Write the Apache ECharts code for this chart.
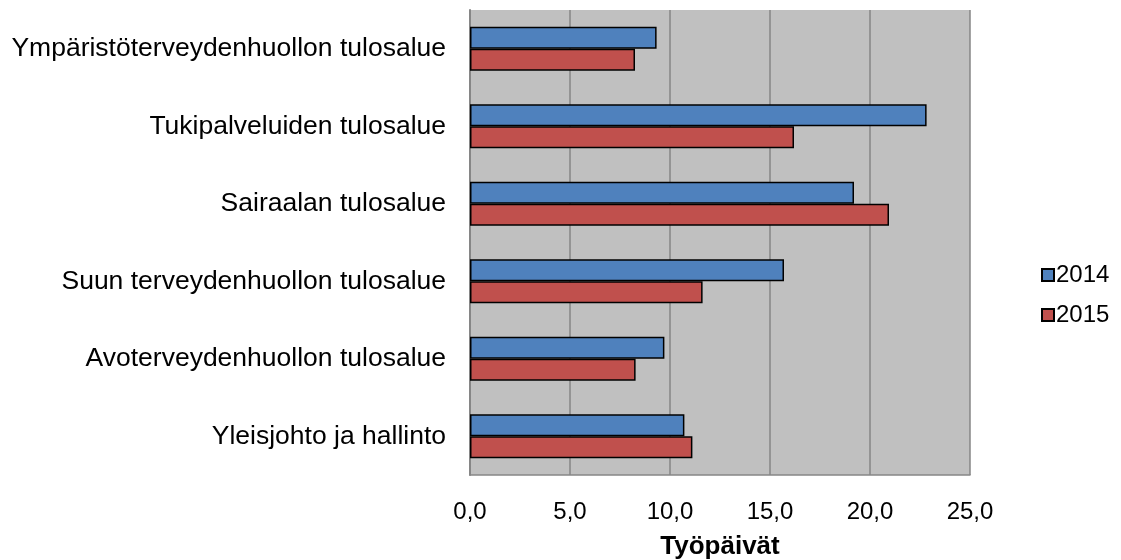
<!DOCTYPE html>
<html><head><meta charset="utf-8">
<script src="https://cdn.jsdelivr.net/npm/echarts@6/dist/echarts.min.js"></script>
<style>html,body{margin:0;padding:0;background:#fff}#c{width:1121px;height:560px}</style>
</head><body><div id="c"></div>
<script>
const categories = ["Ympäristöterveydenhuollon tulosalue","Tukipalveluiden tulosalue","Sairaalan tulosalue","Suun terveydenhuollon tulosalue","Avoterveydenhuollon tulosalue","Yleisjohto ja hallinto"];
const values2014 = [9.33, 22.83, 19.2, 15.7, 9.72, 10.72];
const values2015 = [8.25, 16.2, 20.95, 11.63, 8.28, 11.12];
const seriesNames = ["2014","2015"];
const xTicks = {min:0, max:25, interval:5};
const font = "Liberation Sans, Arial, sans-serif";
const chart = echarts.init(document.getElementById('c'));
chart.setOption({
  animation:false,
  backgroundColor:'#fff',
  grid:{left:470, right:151, top:10, bottom:85, show:true, backgroundColor:'#C0C0C0', borderWidth:0, containLabel:false, outerBoundsMode:'none'},
  legend:{orient:'vertical', left:1036, top:258, itemWidth:12, itemHeight:12, itemGap:16,
    textStyle:{fontFamily:font, fontSize:24, color:'#000', padding:[0,0,0,-3]},
    data:seriesNames.map(n=>({name:n, icon:'rect'}))},
  xAxis:{type:'value', min:xTicks.min, max:xTicks.max, interval:xTicks.interval,
    name:'Työpäivät', nameLocation:'middle', nameGap:59,
    nameTextStyle:{fontFamily:font, fontSize:26, fontWeight:'bold', color:'#000'},
    axisLabel:{margin:25, fontFamily:font, fontSize:24, color:'#000', formatter:v=>v.toFixed(1).replace('.',',')},
    axisLine:{show:true, lineStyle:{color:'#868686', width:1.5}}, axisTick:{show:false},
    splitLine:{show:true, lineStyle:{color:'#868686', width:1.5}}},
  yAxis:{type:'category', inverse:true, data:categories,
    axisLabel:{margin:24, fontFamily:font, fontSize:26.5, color:'#000'},
    axisLine:{show:true, lineStyle:{color:'#868686', width:2}}, axisTick:{show:false}},
  series:[
    {name:seriesNames[0], type:'bar', data:values2014, barWidth:22, barGap:'0%',
      itemStyle:{color:'#4F81BD', borderColor:'#000', borderWidth:1.5}},
    {name:seriesNames[1], type:'bar', data:values2015, barWidth:22, barGap:'0%',
      itemStyle:{color:'#C0504D', borderColor:'#000', borderWidth:1.5}}
  ]
});
</script></body></html>
